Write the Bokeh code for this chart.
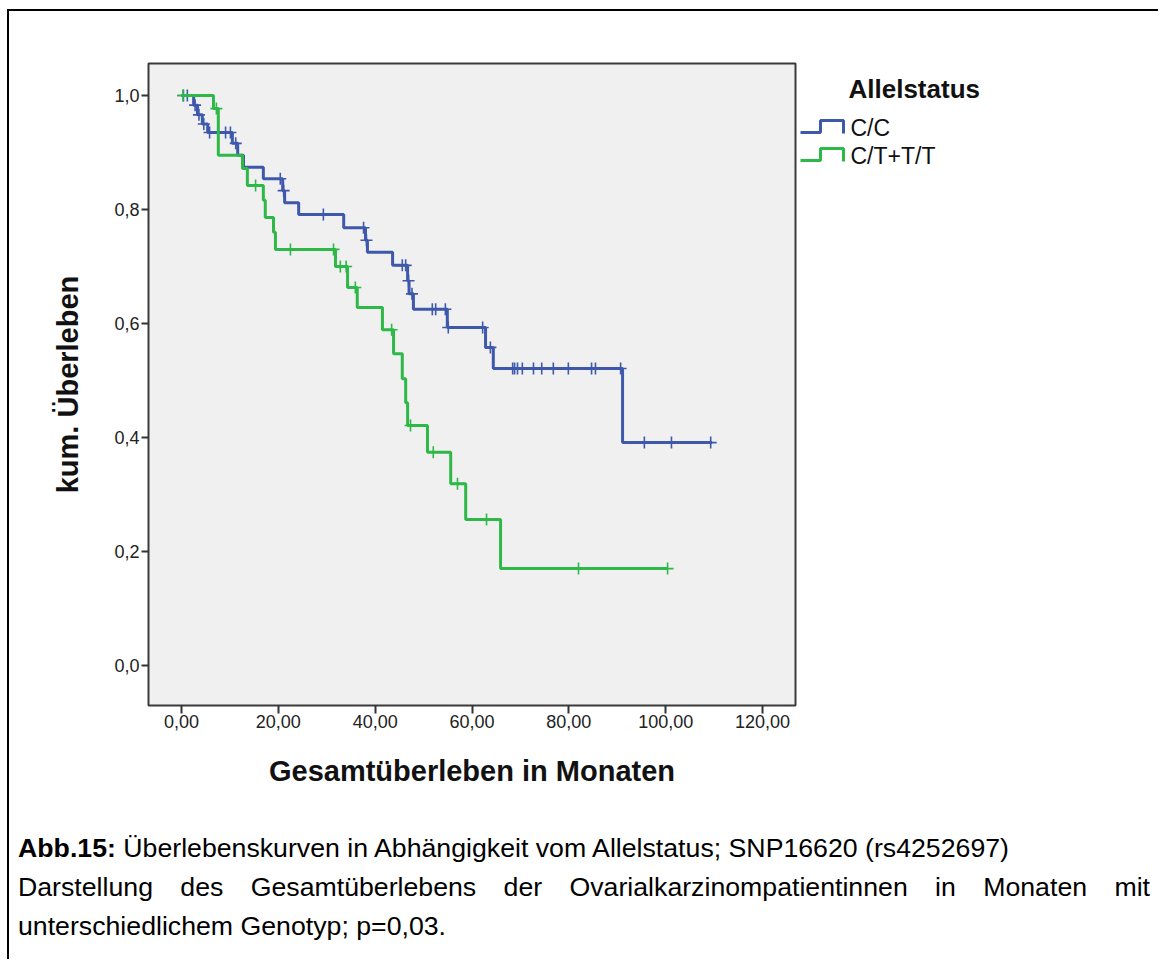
from bokeh.plotting import figure
from bokeh.models import Range1d, FixedTicker, Div
from bokeh.layouts import row, column
from bokeh.embed import file_html
from bokeh.resources import INLINE
from bokeh.core.properties import value

# ---------------- data ----------------
x_ticks = [0, 20, 40, 60, 80, 100, 120]
x_tick_labels = ["0,00", "20,00", "40,00", "60,00", "80,00", "100,00", "120,00"]
y_ticks = [0.0, 0.2, 0.4, 0.6, 0.8, 1.0]
y_tick_labels = ["0,0", "0,2", "0,4", "0,6", "0,8", "1,0"]

series_names = ["C/C", "C/T+T/T"]
legend_title = "Allelstatus"
x_title = "Gesamtüberleben in Monaten"
y_title = "kum. Überleben"

# C/C : event times (months) and survival after each event
cc_times = [2.5, 3.3, 4.3, 5.4, 10.5, 11.6, 12.8, 16.9, 20.9, 21.3, 24.2, 33.5,
            38.0, 38.4, 43.6, 46.7, 47.0, 47.9, 54.9, 62.8, 64.4, 91.1]
cc_surv = [0.983, 0.966, 0.950, 0.935, 0.916, 0.895, 0.874, 0.854, 0.833, 0.812,
           0.791, 0.768, 0.746, 0.725, 0.702, 0.675, 0.652, 0.625, 0.593, 0.558,
           0.521, 0.391]
cc_end = 109.6
cc_censored = [0.4, 1.2, 2.8, 3.6, 4.6, 5.8, 9.1, 10.1, 11.2, 20.4, 21.1, 29.3,
               37.6, 38.2, 45.6, 46.3, 46.9, 47.6, 51.8, 52.5, 54.5, 55.1, 62.2,
               63.8, 68.4, 68.8, 69.4, 70.4, 72.7, 74.4, 76.8, 79.9, 84.7, 85.5,
               90.7, 95.6, 101.2, 109.3]

# C/T+T/T
ct_times = [6.6, 7.6, 12.6, 13.6, 16.9, 17.3, 19.0, 19.4, 31.8, 34.3, 36.3, 41.5,
            43.8, 45.6, 46.3, 46.7, 50.8, 55.6, 58.7, 65.9]
ct_surv = [0.977, 0.895, 0.872, 0.842, 0.816, 0.786, 0.760, 0.730, 0.700, 0.663,
           0.628, 0.589, 0.547, 0.503, 0.461, 0.421, 0.374, 0.319, 0.256, 0.170]
ct_end = 100.4
ct_censored = [0.3, 7.2, 15.3, 22.5, 31.4, 32.8, 34.0, 35.9, 43.4, 47.3, 52.0,
               57.0, 63.0, 82.0, 100.4]

caption_html = ("<b>Abb.15:</b> Überlebenskurven in Abhängigkeit vom Allelstatus; "
                "SNP16620 (rs4252697)<br>Darstellung des Gesamtüberlebens der "
                "Ovarialkarzinompatientinnen in Monaten mit unterschiedlichem "
                "Genotyp; p=0,03.")

# ---------------- helpers ----------------
def surv_at(times, surv, t):
    s = 1.0
    for ti, si in zip(times, surv):
        if ti <= t:
            s = si
    return s

FONT = "Liberation Sans"
BLUE = "#3e58ac"
GREEN = "#2eb848"

OX, OY = 9, 11          # page position of the chart canvas
H1 = 818
FRAME_TOP, FRAME_BOTTOM = 63, 705
FRAME_LEFT, FRAME_RIGHT = 148, 795
MB_TOP = FRAME_TOP - OY
MB_BOTTOM = H1 - (FRAME_BOTTOM - OY)
W1 = (FRAME_LEFT - OX) + (FRAME_RIGHT - FRAME_LEFT) + 2

p = figure(width=W1, height=H1, title=None,
           x_range=Range1d(-6.82, 126.82), y_range=Range1d(-0.0702, 1.0561),
           output_backend="svg", toolbar_location=None,
           min_border_left=FRAME_LEFT - OX, min_border_top=MB_TOP, min_border_right=2,
           min_border_bottom=MB_BOTTOM)
p.background_fill_color = "#f0f0f0"
p.border_fill_color = "white"
p.outline_line_color = "#3a3a3a"
p.outline_line_width = 2
p.grid.visible = False

for ax in (p.xaxis, p.yaxis):
    ax.axis_line_color = None
    ax.minor_tick_line_color = None
    ax.major_tick_in = 0
    ax.major_tick_line_width = 2
    ax.major_tick_line_color = "#333333"
    ax.major_label_text_font = FONT
    ax.major_label_text_font_size = "18px"
    ax.major_label_text_color = "#222222"
    ax.axis_label_text_font = FONT
    ax.axis_label_text_font_style = "bold"
    ax.axis_label_text_font_size = "29px"
    ax.axis_label_text_color = "#111111"

p.xaxis.ticker = FixedTicker(ticks=x_ticks)
p.xaxis.major_label_overrides = {t: l for t, l in zip(x_ticks, x_tick_labels)}
p.xaxis.major_tick_out = 8
p.xaxis.major_label_standoff = 1
p.xaxis.axis_label = x_title
p.xaxis.axis_label_standoff = 24

p.yaxis.ticker = FixedTicker(ticks=y_ticks)
p.yaxis.major_label_overrides = {t: l for t, l in zip(y_ticks, y_tick_labels)}
p.yaxis.major_tick_out = 7
p.yaxis.major_label_standoff = 2
p.yaxis.axis_label = y_title
p.yaxis.axis_label_standoff = 27

for times, surv, end, cens, col in ((cc_times, cc_surv, cc_end, cc_censored, BLUE),
                                    (ct_times, ct_surv, ct_end, ct_censored, GREEN)):
    xs = [0.0] + list(times) + [end]
    ys = [1.0] + list(surv) + [surv[-1]]
    p.step(xs, ys, mode="after", line_color=col, line_width=3)
    cy = [surv_at(times, surv, t) for t in cens]
    p.scatter(cens, cy, marker="cross", size=12, line_color=col, line_width=1.6)

# ---------------- legend panel (coordinates = page pixels) ----------------
LX0 = OX + W1
LW = 1160 - 2 - LX0
leg = figure(width=LW, height=H1, title=None,
             x_range=Range1d(LX0, LX0 + LW), y_range=Range1d(FRAME_BOTTOM, FRAME_TOP),
             output_backend="svg", toolbar_location=None,
             x_axis_type=None, y_axis_type=None,
             min_border_left=0, min_border_right=0,
             min_border_top=MB_TOP, min_border_bottom=MB_BOTTOM)
leg.outline_line_color = None
leg.grid.visible = False
leg.background_fill_color = "white"
leg.border_fill_color = "white"
leg.text(x=[848], y=[88], text=[legend_title], text_font=value(FONT),
         text_font_style="bold", text_font_size="26px", text_baseline="middle",
         text_color="#111111")
for i, (name, col) in enumerate(zip(series_names, (BLUE, GREEN))):
    base = 132 + 28 * i
    leg.line(x=[800, 820, 820, 843, 843], y=[base, base, base - 12, base - 12, base + 1],
             line_color=col, line_width=3)
    leg.text(x=[850], y=[base - 5], text=[name], text_font=value(FONT),
             text_font_size="23px", text_baseline="middle", text_color="#111111")

# ---------------- caption ----------------
caption = Div(text=caption_html, width=1132, height=130, margin=(0, 0, 0, 18 - OX),
              styles={"font-family": "'Liberation Sans', Arial, sans-serif",
                      "font-size": "26.7px", "line-height": "39px",
                      "text-align": "justify", "color": "#000000"})

layout = column(row(p, leg), caption, margin=(OY - 2, 0, 0, OX - 2),
                styles={"border-top": "2px solid #000000",
                        "border-left": "2px solid #000000"})

open("out.html", "w").write(file_html(layout, INLINE))
